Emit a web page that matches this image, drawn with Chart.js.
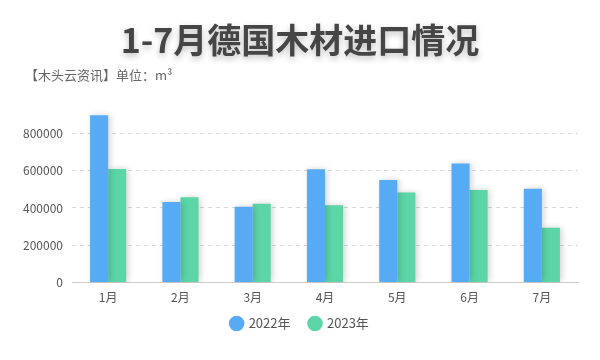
<!DOCTYPE html>
<html>
<head>
<meta charset="utf-8">
<script src="https://cdn.jsdelivr.net/npm/chart.js@4"></script>
<style>
  html, body { margin: 0; padding: 0; background: #fff; }
  #wrap { position: relative; width: 600px; height: 360px; }
  #title {
    position: absolute; left: 0; top: 16px; width: 600px; text-align: center;
    font: bold 34px "Noto Sans CJK SC", sans-serif; color: #454545;
    text-shadow: 0 3px 6px rgba(0,0,0,0.25); line-height: 46px;
  }
  #sub {
    position: absolute; left: 25px; top: 66px;
    font: 13px "Noto Sans CJK SC", sans-serif; color: #666; line-height: 18px;
  }
  canvas { position: absolute; left: 0; top: 0; }
</style>
</head>
<body>
<div id="wrap">
  <canvas id="chart" width="600" height="360"></canvas>
  <div id="title">1-7月德国木材进口情况</div>
  <div id="sub">【木头云资讯】单位：m³</div>
</div>
<script>
// data
const months = ['1月', '2月', '3月', '4月', '5月', '6月', '7月'];
const series2022 = [897000, 432000, 407000, 607000, 550000, 638000, 503000];
const series2023 = [609000, 458000, 423000, 415000, 483000, 496000, 294000];
const seriesNames = ['2022年', '2023年'];
const yMax = 1000000;
const yStep = 200000;

const font = "'Noto Sans CJK SC', sans-serif";

// soft shadow under the bars
const barShadow = {
    id: 'barShadow',
    beforeDatasetsDraw(chart) {
        const ctx = chart.ctx;
        ctx.save();
        ctx.shadowColor = 'rgba(0,0,0,0.18)';
        ctx.shadowBlur = 6;
        ctx.shadowOffsetX = 2;
        ctx.shadowOffsetY = 0;
    },
    afterDatasetsDraw(chart) {
        chart.ctx.restore();
    }
};

// legend padding also sets the gap between items, so nudge it afterwards
// (and re-centre it on the page, the right padding pulls it left)
const legendNudge = {
    id: 'legendNudge',
    afterLayout(chart) {
        const lg = chart.legend;
        if (lg) {
            lg.top -= 15;
            lg.bottom -= 15;
            lg.left += 11;
            lg.right += 11;
        }
    }
};

const ctx = document.getElementById('chart').getContext('2d');
new Chart(ctx, {
    type: 'bar',
    data: {
        labels: months,
        datasets: [
            { label: seriesNames[0], data: series2022, backgroundColor: '#56abf4' },
            { label: seriesNames[1], data: series2023, backgroundColor: '#5cd6a7' }
        ]
    },
    options: {
        responsive: false,
        animation: false,
        layout: { padding: { top: 96, right: 22, bottom: 5, left: 0 } },
        datasets: {
            bar: { categoryPercentage: 0.5, barPercentage: 1.0 }
        },
        scales: {
            x: {
                grid: { display: false, drawTicks: false },
                border: { color: '#cccccc' },
                ticks: { color: '#555', font: { family: font, size: 12 }, padding: 8 }
            },
            y: {
                min: 0,
                max: yMax,
                afterFit(scale) { scale.width = 72; },
                ticks: {
                    stepSize: yStep,
                    maxTicksLimit: 20,
                    color: '#555',
                    font: { family: font, size: 12 },
                    padding: 9,
                    // top tick is only there to leave headroom
                    callback: (v) => (v >= yMax ? '' : v)
                },
                grid: {
                    drawTicks: false,
                    color: (c) => (c.tick && c.tick.value >= yMax ? 'rgba(0,0,0,0)' : '#d6d6d6')
                },
                border: { display: false, dash: [4, 4] }
            }
        },
        plugins: {
            legend: {
                position: 'bottom',
                labels: {
                    usePointStyle: true,
                    pointStyle: 'circle',
                    boxWidth: 11,
                    boxHeight: 11,
                    padding: 19,
                    color: '#555',
                    font: { family: font, size: 13 }
                }
            },
            tooltip: { enabled: false }
        }
    },
    plugins: [barShadow, legendNudge]
});
</script>
</body>
</html>
